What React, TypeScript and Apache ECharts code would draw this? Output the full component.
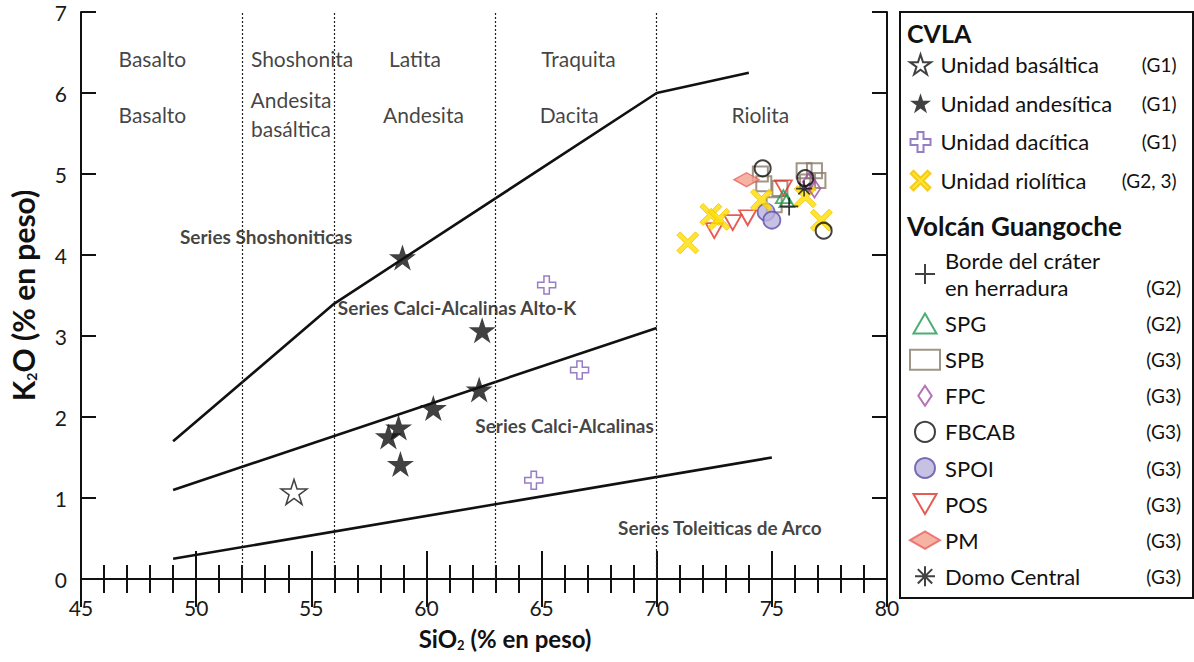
import { useEffect, useRef } from 'react';
import * as echarts from 'echarts';

// ---------- data ----------
const basalticUnit = [[54.25, 1.075]];
const andesiticUnit = [
  [58.96, 3.97], [62.42, 3.07], [60.3, 2.11], [62.29, 2.34],
  [58.35, 1.76], [58.79, 1.87], [58.87, 1.42],
];
const daciticUnit = [[65.22, 3.63], [66.65, 2.58], [64.66, 1.22]];
const rhyoliticUnit = [
  [71.35, 4.15], [72.35, 4.5], [72.7, 4.44], [74.55, 4.68], [76.45, 4.72], [77.15, 4.43],
];
const craterRim = [[75.75, 4.6]];
const spg = [[75.5, 4.72], [75.65, 4.67]];
const spb = [
  [74.5, 5.0], [74.65, 4.88], [75.1, 4.62], [75.35, 4.82],
  [76.4, 5.04], [76.85, 5.04], [76.55, 4.9], [77.0, 4.92],
];
const fpc = [[76.6, 4.9], [76.85, 4.82]];
const fbcab = [[74.6, 5.07], [76.45, 4.95], [77.25, 4.3]];
const spoi = [[74.75, 4.53], [75.0, 4.43]];
const pos = [[72.5, 4.3], [73.3, 4.4], [73.95, 4.46], [75.5, 4.83]];
const pm = [[73.9, 4.93]];
const domoCentral = [[76.4, 4.82]];

const shoshoniticBoundary = [[49, 1.7], [56, 3.4], [70, 6.0], [74, 6.25]];
const highKBoundary = [[49, 1.1], [70, 3.1]];
const tholeiiticBoundary = [[49, 0.25], [75, 1.5]];
const rockDividers = [52, 56, 63, 70];

const rockNames: [number, number, string][] = [
  [48.1, 6.43, 'Basalto'], [54.6, 6.43, 'Shoshonita'], [59.5, 6.43, 'Latita'], [66.6, 6.43, 'Traquita'],
  [48.1, 5.74, 'Basalto'], [54.12, 5.74, 'Andesita\nbasáltica'], [59.87, 5.74, 'Andesita'],
  [66.2, 5.74, 'Dacita'], [74.5, 5.74, 'Riolita'],
];
const seriesNames: [number, number, string][] = [
  [53.04, 4.23, 'Series Shoshoniticas'],
  [61.33, 3.35, 'Series Calci-Alcalinas Alto-K'],
  [66.0, 1.9, 'Series Calci-Alcalinas'],
  [72.74, 0.63, 'Series Toleiticas de Arco'],
];

const cvlaUnits = ['Unidad basáltica', 'Unidad andesítica', 'Unidad dacítica', 'Unidad riolítica'];
const cvlaGroups = ['(G1)', '(G1)', '(G1)', '(G2, 3)'];
const guangocheUnits = ['Borde del cráter en herradura', 'SPG', 'SPB', 'FPC', 'FBCAB', 'SPOI', 'POS', 'PM', 'Domo Central'];
const guangocheLabels = ['Borde del cráter\nen herradura', 'SPG', 'SPB', 'FPC', 'FBCAB', 'SPOI', 'POS', 'PM', 'Domo Central'];
const guangocheGroups = ['(G2)', '(G2)', '(G3)', '(G3)', '(G3)', '(G3)', '(G3)', '(G3)', '(G3)'];

// ---------- symbols ----------
const STAR = 'path://M50,0 L61.23,34.55 L97.55,34.55 L68.16,55.9 L79.39,90.45 L50,69.1 L20.61,90.45 L31.84,55.9 L2.45,34.55 L38.77,34.55 Z';
const HOLLOW_CROSS = 'path://M35,0 L65,0 L65,35 L100,35 L100,65 L65,65 L65,100 L35,100 L35,65 L0,65 L0,35 L35,35 Z';
const XMARK = 'path://M0,15 L15,0 L50,35 L85,0 L100,15 L65,50 L100,85 L85,100 L50,65 L15,100 L0,85 L35,50 Z';
const PLUS = 'path://M45,0 L55,0 L55,45 L100,45 L100,55 L55,55 L55,100 L45,100 L45,55 L0,55 L0,45 L45,45 Z';
const ASTERISK = 'path://M45,0 L55,0 L55,100 L45,100 Z M0,45 L100,45 L100,55 L0,55 Z M10.6,17.7 L17.7,10.6 L89.4,82.3 L82.3,89.4 Z M82.3,10.6 L89.4,17.7 L17.7,89.4 L10.6,82.3 Z';
const NARROW_DIAMOND = 'path://M6,0 L12,9 L6,18 L0,9 Z';
const WIDE_DIAMOND = 'path://M0,7 L12,0 L24,7 L12,14 Z';
const DOWN_TRIANGLE = 'path://M0,0 L20,0 L10,17.3 Z';
const UP_TRIANGLE = 'path://M10,0 L20,17.3 L0,17.3 Z';

const CLEAR = 'rgba(255,255,255,0)';
const FONT = 'Lato';

function App() {
  const ref = useRef<HTMLDivElement>(null);

  useEffect(() => {
    if (!ref.current) return;
    const chart = echarts.init(ref.current, null, { renderer: 'svg' });

    const axisLine = { show: true, lineStyle: { color: '#111', width: 2 } };
    const xTick = { show: true, inside: true, length: 28, lineStyle: { color: '#111', width: 2 } };
    const xMinor = { show: true, splitNumber: 5, length: 14, lineStyle: { color: '#111', width: 2 } };
    const yTick = { show: true, inside: true, length: 15, lineStyle: { color: '#111', width: 2 } };
    const tickLabel = { fontSize: 21, fontFamily: FONT, color: '#1a1a1a' };

    const scatter = (name: string, data: number[][], symbol: string, symbolSize: any, itemStyle: any, z = 3) => ({
      name, type: 'scatter', data, symbol, symbolSize, itemStyle, z,
      symbolKeepAspect: false,
    });

    const boundary = (data: number[][]) => ({
      type: 'line', data, symbol: 'none', silent: true, z: 2,
      lineStyle: { color: '#111', width: 2.6 },
    });

    const legendFormatter = (labels: string[], units: string[], groups: string[]) => (name: string) => {
      const i = units.indexOf(name);
      const lines = labels[i].split('\n');
      return lines
        .map((l, k) => (k === lines.length - 1 ? `{n|${l}}{g|${groups[i]}}` : `{n|${l}}`))
        .join('\n');
    };

    const legendText = {
      fontSize: 22, fontFamily: FONT, color: '#111', lineHeight: 27,
      rich: {
        n: { fontSize: 22, fontFamily: FONT, color: '#111', width: 186, lineHeight: 27 },
        g: { fontSize: 19, fontFamily: FONT, color: '#111', width: 50, align: 'right', lineHeight: 27 },
      },
    };

    chart.setOption({
      animation: false,
      backgroundColor: '#fff',
      grid: { left: 77, right: 307, top: 12, bottom: 83 },
      xAxis: [
        {
          type: 'value', min: 45, max: 80, interval: 5, position: 'bottom',
          axisLine, axisTick: xTick, minorTick: xMinor, splitLine: { show: false },
          axisLabel: { ...tickLabel, margin: 18 },
          name: '{a|SiO}{s|2}{a| (% en peso)}', nameLocation: 'middle', nameGap: 46,
          nameTextStyle: {
            padding: [0, 0, 0, 42],
            rich: {
              a: { fontSize: 24, fontWeight: 'bold', fontFamily: FONT, color: '#111' },
              s: { fontSize: 13, fontWeight: 'bold', fontFamily: FONT, color: '#111', padding: [13, 0, 0, 0] },
            },
          },
        },
        {
          type: 'value', min: 45, max: 80, interval: 5, position: 'top',
          axisLine, axisTick: xTick, minorTick: xMinor, splitLine: { show: false },
          axisLabel: { show: false },
        },
      ],
      yAxis: [
        {
          type: 'value', min: 0, max: 7, interval: 1, position: 'left',
          axisLine, axisTick: yTick, splitLine: { show: false },
          axisLabel: { ...tickLabel, margin: 14 },
          name: '{a|K}{s|2}{a|O (% en peso)}', nameLocation: 'middle', nameGap: 43,
          nameTextStyle: {
            rich: {
              a: { fontSize: 30, fontWeight: 'bold', fontFamily: FONT, color: '#111' },
              s: { fontSize: 14, fontWeight: 'bold', fontFamily: FONT, color: '#111', padding: [16, 0, 0, 0] },
            },
          },
        },
        {
          type: 'value', min: 0, max: 7, interval: 1, position: 'right',
          axisLine, axisTick: yTick, splitLine: { show: false },
          axisLabel: { show: false },
        },
      ],
      legend: [
        {
          data: cvlaUnits, orient: 'vertical', left: 904, top: 46,
          itemWidth: 30, itemHeight: 20, itemGap: 11.7, selectedMode: false,
          textStyle: legendText, formatter: legendFormatter(cvlaUnits, cvlaUnits, cvlaGroups),
        },
        {
          data: guangocheUnits, orient: 'vertical', left: 904, top: 242,
          itemWidth: 30, itemHeight: 20, itemGap: 9.1, selectedMode: false,
          textStyle: legendText, formatter: legendFormatter(guangocheLabels, guangocheUnits, guangocheGroups),
        },
      ],
      graphic: [
        {
          type: 'rect', shape: { x: 900, y: 12, width: 293, height: 586 },
          style: { fill: 'none', stroke: '#111', lineWidth: 2 }, silent: true,
        },
        {
          type: 'text', x: 907, y: 33,
          style: { text: 'CVLA', fontSize: 25, fontWeight: 'bold', fontFamily: FONT, fill: '#111', verticalAlign: 'middle' },
        },
        {
          type: 'text', x: 907, y: 226,
          style: { text: 'Volcán Guangoche', fontSize: 26, fontWeight: 'bold', fontFamily: FONT, fill: '#111', verticalAlign: 'middle' },
        },
      ],
      series: [
        {
          ...boundary(tholeiiticBoundary),
          markLine: {
            silent: true, symbol: 'none', label: { show: false },
            lineStyle: { color: '#222', width: 1.2, type: [2, 2] },
            data: rockDividers.map((v) => ({ xAxis: v })),
          },
        },
        boundary(highKBoundary),
        boundary(shoshoniticBoundary),
        {
          type: 'scatter', silent: true, symbolSize: 1, itemStyle: { color: CLEAR }, z: 4,
          data: rockNames.map(([x, y, t]) => ({ name: t, value: [x, y] })),
          label: {
            show: true, position: 'inside', formatter: '{b}', fontSize: 21, fontFamily: FONT,
            color: '#111', lineHeight: 29, textBorderWidth: 0,
          },
        },
        {
          type: 'scatter', silent: true, symbolSize: 1, itemStyle: { color: CLEAR }, z: 4,
          data: seriesNames.map(([x, y, t]) => ({ name: t, value: [x, y] })),
          label: {
            show: true, position: 'inside', formatter: '{b}', fontSize: 19, fontWeight: 'bold',
            fontFamily: FONT, color: '#111', textBorderWidth: 0,
          },
        },
        scatter('Unidad basáltica', basalticUnit, STAR, [26, 25], { color: '#fff', borderColor: '#111', borderWidth: 1.5 }),
        scatter('Unidad andesítica', andesiticUnit, STAR, [27, 26], { color: '#111' }),
        scatter('Unidad dacítica', daciticUnit, HOLLOW_CROSS, 18, { color: '#fff', borderColor: '#7d5cb8', borderWidth: 1.5 }),
        scatter('SPB', spb, 'rect', 15, { color: CLEAR, borderColor: '#8a7a68', borderWidth: 2 }),
        scatter('PM', pm, WIDE_DIAMOND, [25, 14], { color: '#f4a08c', borderColor: '#e86060', borderWidth: 1.5 }),
        scatter('POS', pos, DOWN_TRIANGLE, [17, 15], { color: CLEAR, borderColor: '#e0332b', borderWidth: 1.8 }),
        scatter('SPOI', spoi, 'circle', 17, { color: '#b9b2dd', borderColor: '#5b50a8', borderWidth: 1.8 }),
        scatter('SPG', spg, UP_TRIANGLE, [15, 13], { color: CLEAR, borderColor: '#1f9a4f', borderWidth: 1.8 }),
        scatter('Unidad riolítica', rhyoliticUnit, XMARK, 22, { color: '#ffdd00', borderColor: '#f2c200', borderWidth: 1 }, 5),
        scatter('FPC', fpc, NARROW_DIAMOND, [12, 18], { color: CLEAR, borderColor: '#a24ea6', borderWidth: 1.8 }, 6),
        scatter('FBCAB', fbcab, 'circle', 16, { color: CLEAR, borderColor: '#111', borderWidth: 2 }, 6),
        scatter('Borde del cráter en herradura', craterRim, PLUS, 18, { color: '#111' }, 6),
        scatter('Domo Central', domoCentral, ASTERISK, 16, { color: '#111' }, 6),
      ],
    });

    return () => chart.dispose();
  }, []);

  return (
    <div
      ref={ref}
      style={{ position: 'absolute', left: 0, top: 0, width: 1194, height: 662, background: '#fff' }}
    />
  );
}

export default App;
